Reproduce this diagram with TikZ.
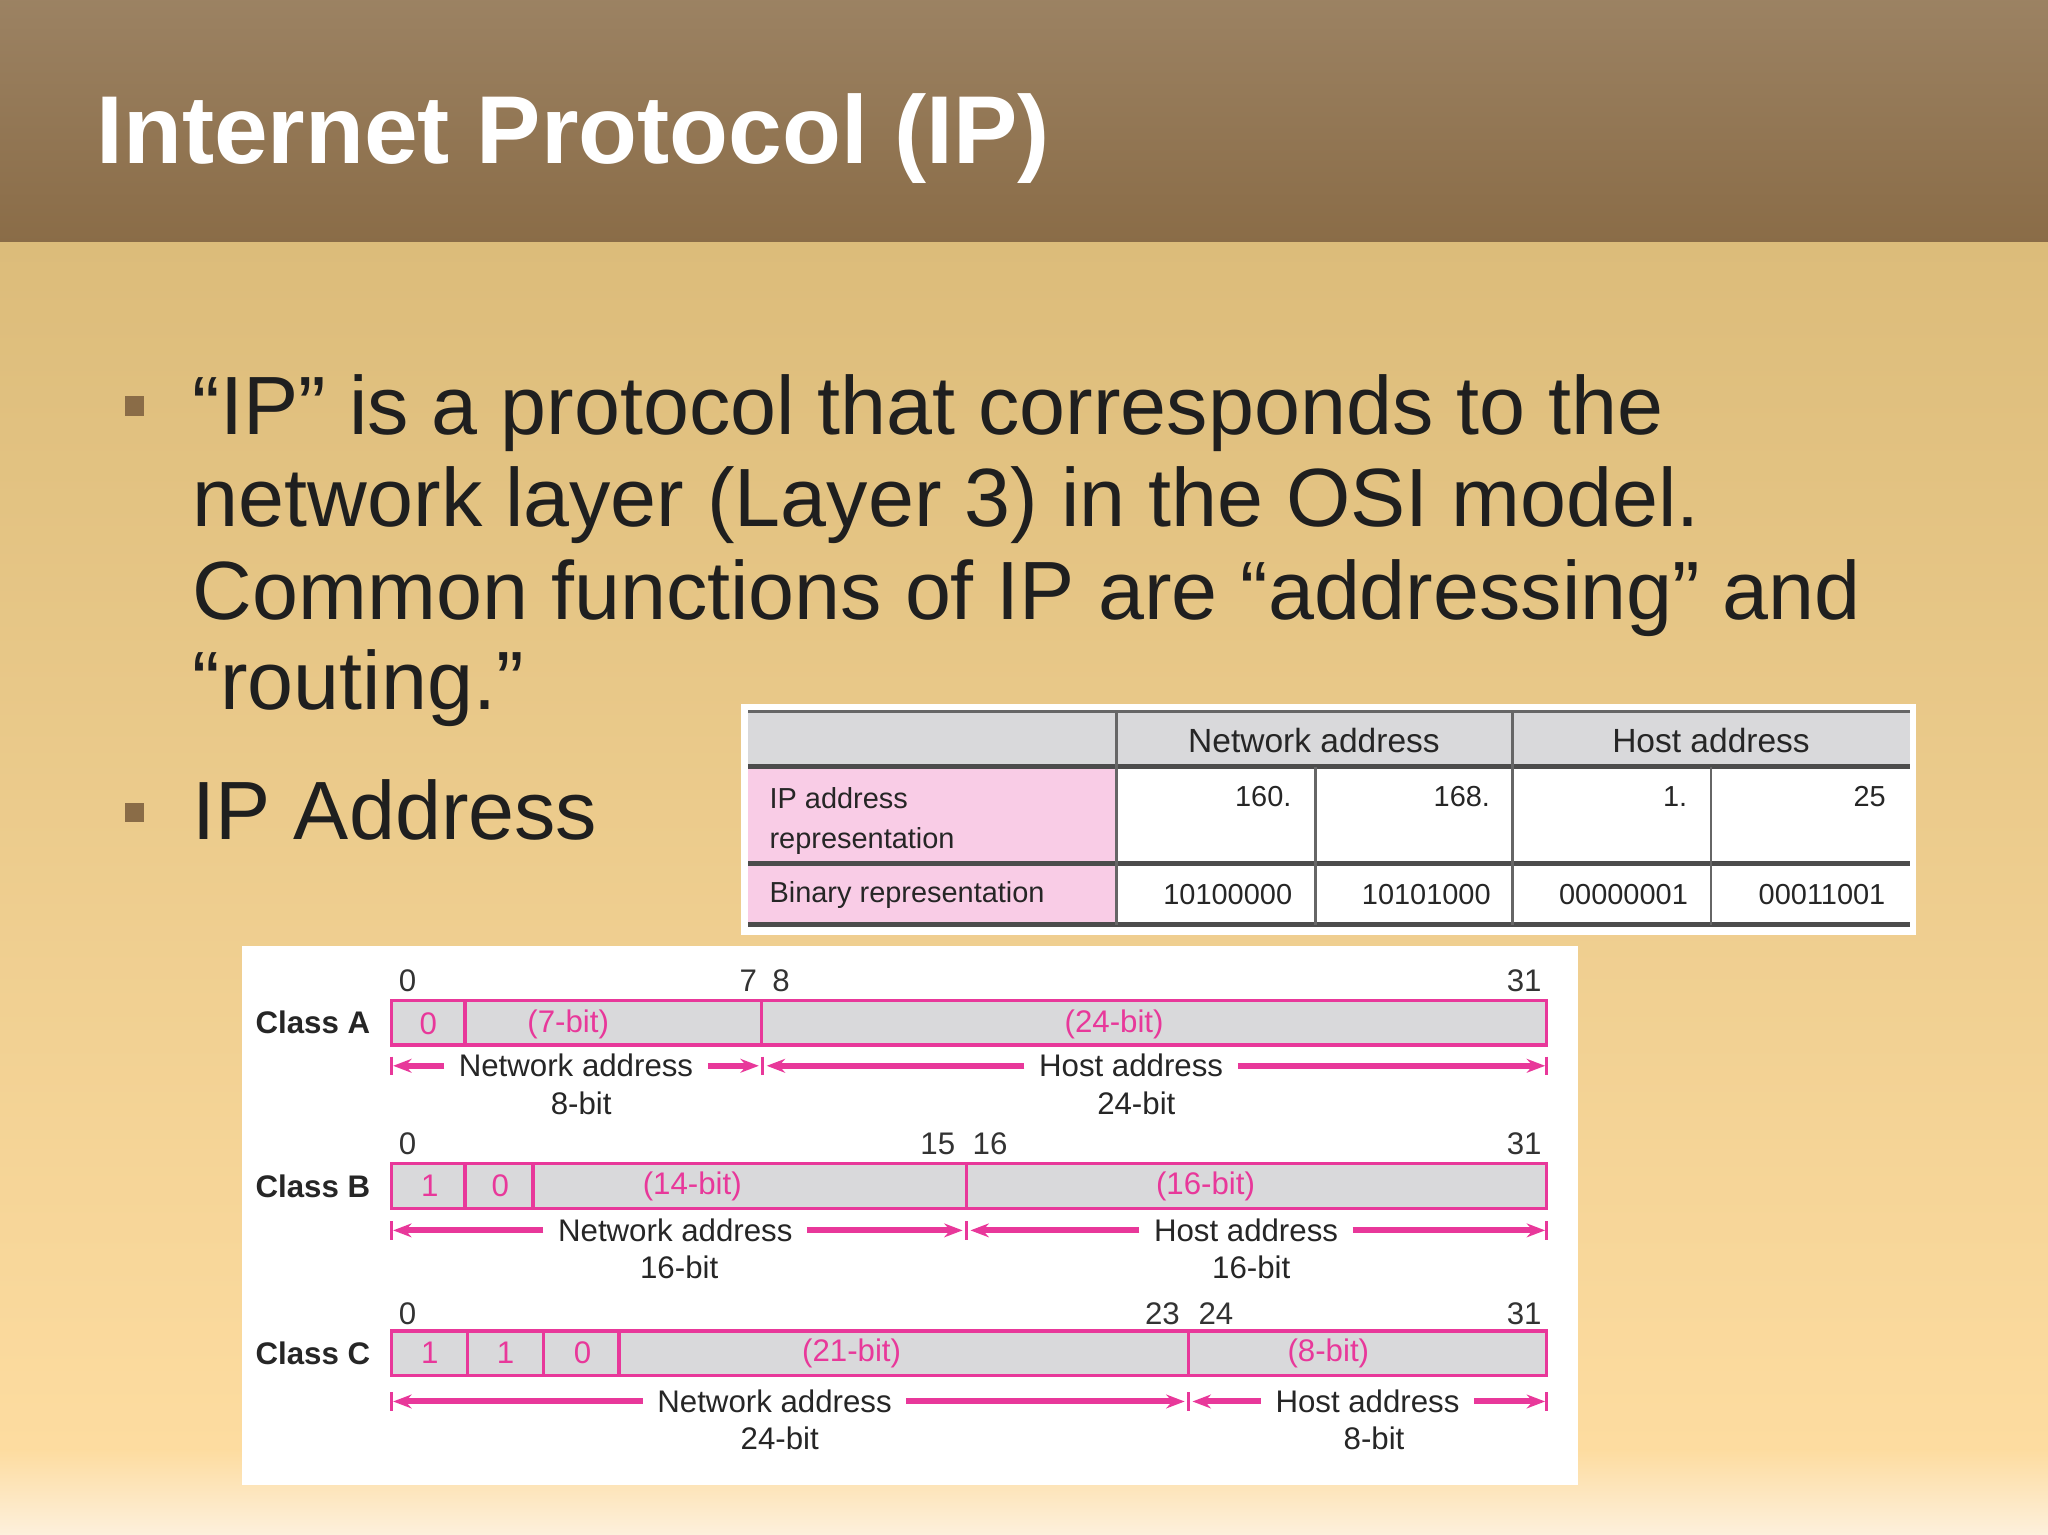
\documentclass[tikz,border=0pt]{standalone}
\usepackage{fontspec}
\setmainfont{Liberation Sans}
\usetikzlibrary{arrows.meta}
\definecolor{pk}{HTML}{E8389A}
\definecolor{brn}{HTML}{8A6C47}
\definecolor{pkf}{HTML}{F9CCE6}
\definecolor{gr}{HTML}{D9D9DB}
\tikzset{
 px/.style={x=0.01cm,y=-0.01cm},
 tt/.style={font=\fontsize{6.8pt}{8pt}\selectfont,inner sep=1pt,text=black!85},
 pl/.style={tt,text=pk},
 num/.style={tt,text=black!80},
 cls/.style={font=\bfseries\fontsize{6.8pt}{8pt}\selectfont,anchor=west,inner sep=0pt,text=black!85},
 fld/.style={draw=pk,fill=gr,line width=0.7pt},
 dv/.style={draw=pk,line width=0.7pt},
 parr/.style={draw=pk,line width=1.3pt,-{Stealth[length=4pt,width=3pt]}},
 bar/.style={draw=pk,line width=0.6pt},
 lab/.style={tt,fill=white,inner xsep=3pt,inner ysep=0pt},
 bul/.style={fill=brn,minimum size=0.15cm,inner sep=0pt},
 btxt/.style={font=\fontsize{18pt}{19pt}\selectfont,anchor=base west,inner sep=0pt,text=black!88},
 tline/.style={draw=black!60,line width=0.6pt}
}
\begin{document}
\begin{tikzpicture}[px]
\useasboundingbox (0,0) rectangle (1568,1175);
\shade[top color=brn!85!white,bottom color=brn] (0,0) rectangle (1568,186);
\shade[top color={rgb,255:red,220;green,188;blue,122},bottom color={rgb,255:red,253;green,220;blue,160}] (0,186) rectangle (1568,1110);
\shade[top color={rgb,255:red,253;green,220;blue,160},bottom color={rgb,255:red,253;green,240;blue,220}] (0,1110) rectangle (1568,1175);
\node[font=\bfseries\fontsize{21pt}{25pt}\selectfont,text=white,anchor=base west,inner sep=0pt] (title) at (73,125) {Internet Protocol (IP)};
% bullets
\node[bul] (b1) at (103,311) {};
\node[bul] (b2) at (103,622) {};
\node[btxt] (l1) at (147,333) {“IP” is a protocol that corresponds to the};
\node[btxt] (l2) at (147,403) {network layer (Layer 3) in the OSI model.};
\node[btxt] (l3) at (147,474) {Common functions of IP are “addressing” and};
\node[btxt] (l4) at (147,543) {“routing.”};
\node[btxt] (l5) at (147,643) {IP Address};
% table
\fill[white] (567,539) rectangle (1467,716);
\fill[gr] (573,545) rectangle (1462,587);
\fill[pkf] (573,587) rectangle (855,708);
\draw[tline] (573,545) -- (1462,545);
\draw[line width=1pt,black!70] (573,587) -- (1462,587);
\draw[line width=1pt,black!70] (573,661) -- (1462,661);
\draw[line width=1pt,black!70] (573,708) -- (1462,708);
\foreach \x in {855,1158}{\draw[tline] (\x,545) -- (\x,708);}
\foreach \x in {1007,1310}{\draw[tline] (\x,587) -- (\x,708);}
\node[font=\fontsize{7.3pt}{9pt}\selectfont,text=black!85] (hn) at (1006,567) {Network address};
\node[font=\fontsize{7.3pt}{9pt}\selectfont,text=black!85] (hh) at (1310,567) {Host address};
\node[tt,anchor=north west,align=left,font=\fontsize{6.3pt}{8.6pt}\selectfont] (r1) at (585,599) {IP address\\representation};
\node[tt,anchor=west,font=\fontsize{6.3pt}{8pt}\selectfont] (r2) at (585,685) {Binary representation};
\foreach \x/\t in {993/160.,1145/168.,1296/1.,1448/25}{\node[tt,anchor=east,font=\fontsize{6.3pt}{8pt}\selectfont] at (\x,610) {\t};}
\foreach \x/\t in {940/10100000,1092/10101000,1243/00000001,1395/00011001}{\node[tt,font=\fontsize{6.3pt}{8pt}\selectfont] at (\x,685) {\t};}
% class diagram
\fill[white] (185,724) rectangle (1208,1137);
% Class A
\node[cls] (ca) at (195,783) {Class A};
\draw[fld] (300,766) rectangle (1184,800);
\draw[dv] (356,766) -- (356,800); \draw[dv] (583,766) -- (583,800);
\node[pl] at (328,784) {0}; \node[pl] at (435,784) {(7-bit)}; \node[pl] at (853,784) {(24-bit)};
\node[num] at (312,751) {0}; \node[num] at (573,751) {7}; \node[num] at (598,751) {8}; \node[num] at (1167,751) {31};
\coordinate (a0) at (301,816); \coordinate (a1) at (581,816); \coordinate (a2) at (587,816); \coordinate (a3) at (1183,816);
\draw[bar] (300,809) -- (300,823); \draw[bar] (584,809) -- (584,823); \draw[bar] (1184,809) -- (1184,823);
\node[lab] (naA) at (441,816) {Network address};
\node[lab] (haA) at (866,816) {Host address};
\draw[parr] (naA) -- (a0); \draw[parr] (naA) -- (a1);
\draw[parr] (haA) -- (a2); \draw[parr] (haA) -- (a3);
\node[tt] at (445,845) {8-bit}; \node[tt] at (870,845) {24-bit};
% Class B
\node[cls] (cb) at (195,908) {Class B};
\draw[fld] (300,891) rectangle (1184,925);
\foreach \x in {356,408,740}{\draw[dv] (\x,891) -- (\x,925);}
\node[pl] at (329,908) {1}; \node[pl] at (383,908) {0}; \node[pl] at (530,908) {(14-bit)}; \node[pl] at (923,908) {(16-bit)};
\node[num] at (312,876) {0}; \node[num] at (718,876) {15}; \node[num] at (758,876) {16}; \node[num] at (1167,876) {31};
\coordinate (b0) at (301,942); \coordinate (b1c) at (737,942); \coordinate (b2c) at (743,942); \coordinate (b3) at (1183,942);
\draw[bar] (300,935) -- (300,949); \draw[bar] (740,935) -- (740,949); \draw[bar] (1184,935) -- (1184,949);
\node[lab] (naB) at (517,942) {Network address};
\node[lab] (haB) at (954,942) {Host address};
\draw[parr] (naB) -- (b0); \draw[parr] (naB) -- (b1c);
\draw[parr] (haB) -- (b2c); \draw[parr] (haB) -- (b3);
\node[tt] at (520,970) {16-bit}; \node[tt] at (958,970) {16-bit};
% Class C
\node[cls] (cc) at (195,1036) {Class C};
\draw[fld] (300,1019) rectangle (1184,1053);
\foreach \x in {358,416,474,910}{\draw[dv] (\x,1019) -- (\x,1053);}
\node[pl] at (329,1036) {1}; \node[pl] at (387,1036) {1}; \node[pl] at (446,1036) {0}; \node[pl] at (652,1036) {(21-bit)}; \node[pl] at (1017,1036) {(8-bit)};
\node[num] at (312,1006) {0}; \node[num] at (890,1006) {23}; \node[num] at (931,1006) {24}; \node[num] at (1167,1006) {31};
\coordinate (c0) at (301,1073); \coordinate (c1) at (907,1073); \coordinate (c2) at (913,1073); \coordinate (c3) at (1183,1073);
\draw[bar] (300,1066) -- (300,1080); \draw[bar] (910,1066) -- (910,1080); \draw[bar] (1184,1066) -- (1184,1080);
\node[lab] (naC) at (593,1073) {Network address};
\node[lab] (haC) at (1047,1073) {Host address};
\draw[parr] (naC) -- (c0); \draw[parr] (naC) -- (c1);
\draw[parr] (haC) -- (c2); \draw[parr] (haC) -- (c3);
\node[tt] at (597,1101) {24-bit}; \node[tt] at (1052,1101) {8-bit};
\end{tikzpicture}
\end{document}
